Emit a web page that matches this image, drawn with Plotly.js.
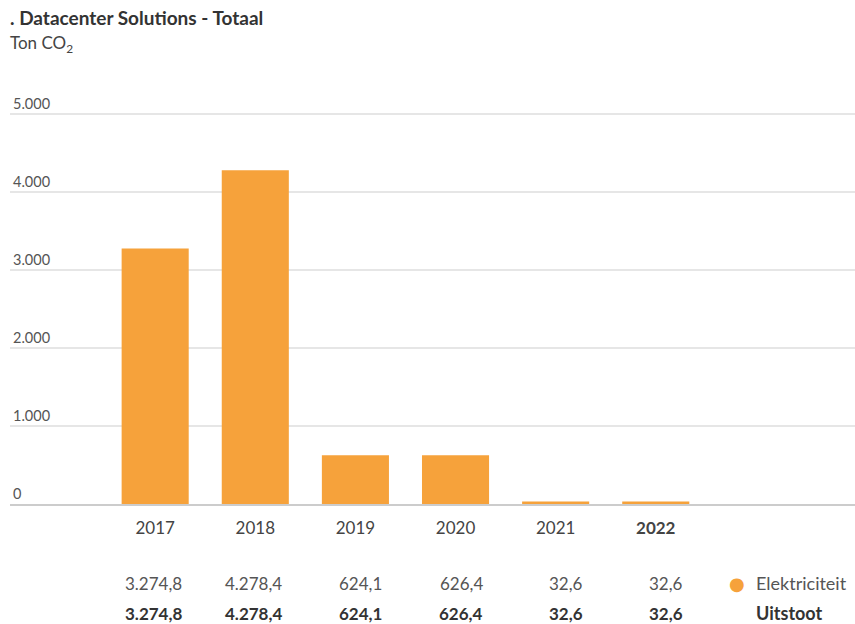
<!DOCTYPE html>
<html>
<head>
<meta charset="utf-8">
<script src="https://cdn.plot.ly/plotly-3.0.1.min.js"></script>
<style>html,body{margin:0;padding:0;background:#fff;}#chart{width:855px;height:624px;}</style>
</head>
<body>
<div id="chart"></div>
<script>
const years = ['2017', '2018', '2019', '2020', '2021', '2022'];
const yearLabels = ['2017', '2018', '2019', '2020', '2021', '<b>2022</b>'];
const elektriciteit = [3274.8, 4278.4, 624.1, 626.4, 32.6, 32.6];
const uitstoot = [3274.8, 4278.4, 624.1, 626.4, 32.6, 32.6];
const yTicks = [0, 1000, 2000, 3000, 4000, 5000];
const yTickLabels = ['0', '1.000', '2.000', '3.000', '4.000', '5.000'];
const seriesName = 'Elektriciteit';
const totalName = 'Uitstoot';
const titleText = '. Datacenter Solutions - Totaal';
const unitText = 'Ton CO<sub>2</sub>';

const FONT = 'Lato, "Open Sans", sans-serif';
const ORANGE = '#F6A23B';

function fmt(v) {
  const parts = v.toFixed(1).split('.');
  const intPart = parts[0].replace(/\B(?=(\d{3})+(?!\d))/g, '.');
  return intPart + ',' + parts[1];
}

const idx = years.map((_, i) => i);

const trace = {
  type: 'bar',
  x: idx,
  y: elektriciteit,
  width: 0.67,
  marker: {color: ORANGE},
  name: seriesName,
  hoverinfo: 'skip',
  showlegend: false
};

// plot area: top 75, bottom 504 -> height 429
const PH = 429;
function py(pix) { return (504 - pix) / PH; }

const annotations = [];
annotations.push({text: '<b>' + titleText + '</b>', xref: 'paper', yref: 'paper', x: -0.002, y: py(18), xanchor: 'left', yanchor: 'middle', showarrow: false, font: {family: FONT, size: 19, color: '#333'}});
annotations.push({text: unitText, xref: 'paper', yref: 'paper', x: -0.002, y: py(44), xanchor: 'left', yanchor: 'middle', showarrow: false, font: {family: FONT, size: 17, color: '#444'}});

elektriciteit.forEach((v, i) => {
  annotations.push({text: fmt(v), xref: 'x', yref: 'paper', x: i + 0.29, y: py(583), xanchor: 'right', yanchor: 'middle', showarrow: false, font: {family: FONT, size: 17, color: '#555'}});
});
uitstoot.forEach((v, i) => {
  annotations.push({text: '<b>' + fmt(v) + '</b>', xref: 'x', yref: 'paper', x: i + 0.29, y: py(613), xanchor: 'right', yanchor: 'middle', showarrow: false, font: {family: FONT, size: 17, color: '#333'}});
});
annotations.push({text: '●', xref: 'paper', yref: 'paper', x: (737 - 10) / 845, y: py(583), xanchor: 'center', yanchor: 'middle', showarrow: false, font: {family: 'DejaVu Sans', size: 18, color: ORANGE}});
annotations.push({text: seriesName, xref: 'paper', yref: 'paper', x: (754 - 10) / 845, y: py(583), xanchor: 'left', yanchor: 'middle', showarrow: false, font: {family: FONT, size: 18, color: '#555'}});
annotations.push({text: '<b>' + totalName + '</b>', xref: 'paper', yref: 'paper', x: (754 - 10) / 845, y: py(613), xanchor: 'left', yanchor: 'middle', showarrow: false, font: {family: FONT, size: 18, color: '#333'}});

const layout = {
  width: 855,
  height: 624,
  margin: {l: 10, r: 0, t: 75, b: 120},
  paper_bgcolor: '#fff',
  plot_bgcolor: '#fff',
  font: {family: FONT, color: '#555'},
  showlegend: false,
  bargap: 0.33,
  xaxis: {
    range: [-1.45, 6.99],
    tickvals: idx,
    ticktext: yearLabels,
    tickfont: {family: FONT, size: 17, color: '#444'},
    showgrid: false,
    zeroline: false,
    showline: true,
    linecolor: '#cccccc',
    linewidth: 2,
    ticks: '',
    ticklabelstandoff: 8,
    fixedrange: true
  },
  yaxis: {
    range: [0, PH / 78 * 1000],
    tickvals: yTicks,
    ticktext: yTickLabels,
    ticklabelposition: 'inside top',
    tickfont: {family: FONT, size: 14.5, color: '#555'},
    showgrid: true,
    gridcolor: '#e6e6e6',
    gridwidth: 1.5,
    zeroline: false,
    showline: false,
    ticks: '',
    fixedrange: true
  },
  annotations: annotations
};

Plotly.newPlot('chart', [trace], layout, {displayModeBar: false, staticPlot: true});
</script>
</body>
</html>
